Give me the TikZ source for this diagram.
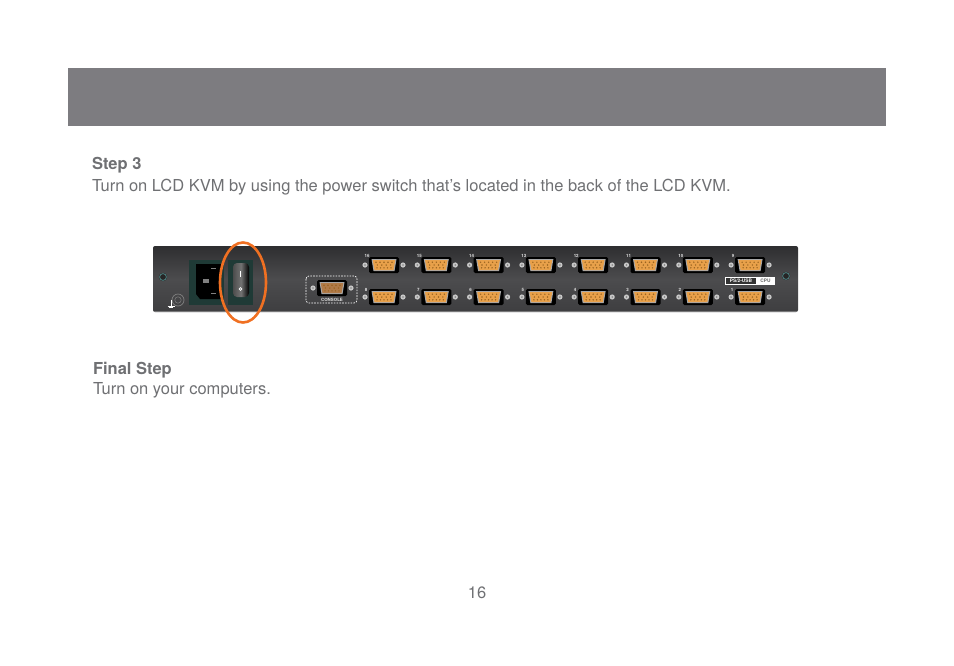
\documentclass[tikz,border=0pt]{standalone}
\usepackage{fontspec}
\setmainfont{TeX Gyre Heros}
\definecolor{headgray}{HTML}{7D7C80}
\definecolor{txtgray}{HTML}{6F7073}
\definecolor{panA}{HTML}{2E2E30}
\definecolor{panB}{HTML}{4C4C4E}
\definecolor{panC}{HTML}{3E3E40}
\definecolor{tealbox}{HTML}{1F3A36}
\definecolor{ringorange}{HTML}{F07022}
\definecolor{pinorange}{HTML}{E8A04A}
\definecolor{pindark}{HTML}{9A6420}
\definecolor{conbrown}{HTML}{B07A48}
\definecolor{screwgray}{HTML}{C8C8C8}
\definecolor{shell}{HTML}{A8A8A8}
\tikzset{
  bodytext/.style={anchor=base west, text=txtgray, font=\fontsize{16.5}{19}\selectfont},
  headtext/.style={anchor=base west, text=txtgray, font=\fontsize{16.5}{19}\selectfont\bfseries},
  portlabel/.style={text=white!90!black, font=\fontsize{4.4}{5}\selectfont\bfseries, inner sep=0pt},
  screw/.style={fill=screwgray},
}
\newcommand\vgaport[3]{%
  \begin{scope}[shift={(#1,#2)}]
    \fill[black, rounded corners=1.5] (-15,-8) rectangle (15,8);
    \fill[shell] (-12.5,-6) -- (12.5,-6) -- (10.5,6) -- (-10.5,6) -- cycle;
    \fill[#3] (-11.3,-5) -- (11.3,-5) -- (9.5,5) -- (-9.5,5) -- cycle;
    \foreach \px in {-8,-4,0,4,8} \fill[pindark] (\px,-2.8) circle (0.8);
    \foreach \px in {-6,-2,2,6} \fill[pindark] (\px*1.1,0) circle (0.8);
    \foreach \px in {-7,-3.5,0,3.5,7} \fill[pindark] (\px,2.8) circle (0.8);
    \fill[screw] (-19,0) circle (2.6);
    \fill[screw] (19,0) circle (2.6);
    \fill[gray] (-19,0) circle (0.9);
    \fill[gray] (19,0) circle (0.9);
  \end{scope}}
\begin{document}
\begin{tikzpicture}[x=1pt,y=-1pt, every node/.style={inner sep=0pt, outer sep=0pt}]
\useasboundingbox[fill=white] (0,0) rectangle (954,665);
% header bar
\fill[headgray] (68,68) rectangle (886,126);
% texts
\node[headtext] (step3) at (92,169) {Step 3};
\node[bodytext] (step3txt) at (92,191) {Turn on LCD KVM by using the power switch that’s located in the back of the LCD KVM.};
\node[headtext] (final) at (93,374) {Final Step};
\node[bodytext] (finaltxt) at (93,394) {Turn on your computers.};
\node[anchor=base, text=txtgray, font=\fontsize{16.5}{19}\selectfont] (page) at (477,598) {16};
% panel
\path[rounded corners=2, top color=panA, bottom color=panC, middle color=panB] (153,246) rectangle (798,312);
\draw[white!30!panC, line width=0.6] (154,311.5) -- (797,311.5);
% left hole
\fill[black!85] (163,277) circle (4.2);
\draw[teal!40!gray, line width=0.8] (163,277) circle (3.4);
% ground
\draw[gray, line width=0.7] (178,300) circle (6);
\draw[gray, line width=0.5] (178,300) circle (3.2);
\draw[white, line width=0.7] (171,300) -- (171,306);
\draw[white, line width=0.7] (167.5,306) -- (174.5,306);
\draw[white, line width=0.6] (168.8,307.6) -- (173.2,307.6);
% power inlet
\fill[tealbox] (189,260) rectangle (224,305);
\fill[black] (196,264) -- (221,264) -- (221,299) -- (200,299) -- (196,294) -- cycle;
\fill[gray] (203,279) rectangle (209,283);
\fill[gray] (211,267.5) rectangle (216,268.8);
\fill[gray] (211,292.5) rectangle (216,293.8);
% switch
\fill[tealbox] (228,260) rectangle (253,305);
\path[rounded corners=4, left color=black!70, right color=black, middle color=black!55] (233,263) rectangle (249,297);
\draw[white, line width=1] (240.5,271) -- (240.5,277);
\fill[white] (240.5,289) circle (1.8);
\fill[black!60] (240.5,289) circle (0.7);
% orange ring
\draw[ringorange, line width=2.6] (243,282.5) ellipse [x radius=23, y radius=40];
% console
\draw[white, line width=0.7, dash pattern=on 1.6pt off 1.2pt, rounded corners=3] (306,276) rectangle (357,303);
\vgaport{332}{288}{conbrown}
\node[portlabel] (conlbl) at (332,299.5) {CONSOLE};
% ports
\foreach \n [count=\c from 0] in {16,15,14,13,12,11,10,9} {
  \pgfmathsetmacro\px{384+\c*52.3}
  \pgfmathtruncatemacro\m{\n-8}
  \vgaport{\px}{265}{pinorange}
  \vgaport{\px}{297}{pinorange}
  \node[portlabel] at (\px-17,255.5) {\n};
  \node[portlabel] at (\px-18,289.5) {\m};
}
% PS/2-USB CPU label
\fill[white] (725,277) rectangle (775,285);
\fill[black!80] (726,278) rectangle (756,284);
\node[text=white, font=\fontsize{4.8}{5}\selectfont\bfseries] (ps2) at (741,281) {PS/2-USB};
\node[text=black!60, font=\fontsize{4.8}{5}\selectfont\bfseries] (cpu) at (765.5,281) {CPU};
% right hole
\fill[black!85] (786,276) circle (4.2);
\draw[teal!40!gray, line width=0.8] (786,276) circle (3.4);
\end{tikzpicture}
\end{document}
